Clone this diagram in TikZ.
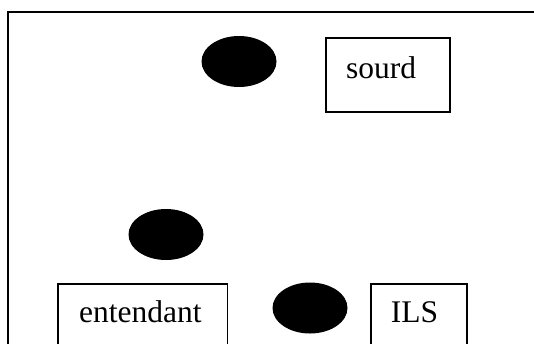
\documentclass[tikz,border=0pt]{standalone}
\usepackage{fontspec}
\setmainfont{Liberation Serif}
\usetikzlibrary{shapes.geometric}
\begin{document}
\begin{tikzpicture}[x=1pt,y=-1pt,
  box/.style={draw=black,line width=1.5pt,rectangle,inner sep=0pt,anchor=north west},
  blob/.style={ellipse,fill=black,draw=none,inner sep=0pt,minimum width=75pt,minimum height=51pt},
  lbl/.style={inner sep=0pt,anchor=base west,font=\fontsize{31.5}{37}\selectfont}]
\useasboundingbox (0,0) rectangle (534,343);
\clip (0,0) rectangle (534,343);
\fill[white] (0,0) rectangle (534,343);
% outer frame (open on right and bottom)
\coordinate (fbl) at (8,360);
\coordinate (ftl) at (8,12);
\coordinate (ftr) at (560,12);
\draw[line width=2.2pt] (fbl) -- (ftl) -- (ftr);
% boxes
\node[box,minimum width=124pt,minimum height=74pt] (sourdbox) at (325,37) {};
\node[lbl] (sourd) at (346,78) {sourd};
\node[box,minimum width=169.5pt,minimum height=120pt] (entbox) at (57,283) {};
\node[lbl] (ent) at (79,322) {entendant};
\node[box,minimum width=96pt,minimum height=120pt] (ilsbox) at (370,283) {};
\node[lbl] (ils) at (390.7,322) {ILS};
% black ellipses
\node[blob] (e1) at (239,61.5) {};
\node[blob] (e2) at (166,234.5) {};
\node[blob] (e3) at (310,308) {};
\end{tikzpicture}
\end{document}
